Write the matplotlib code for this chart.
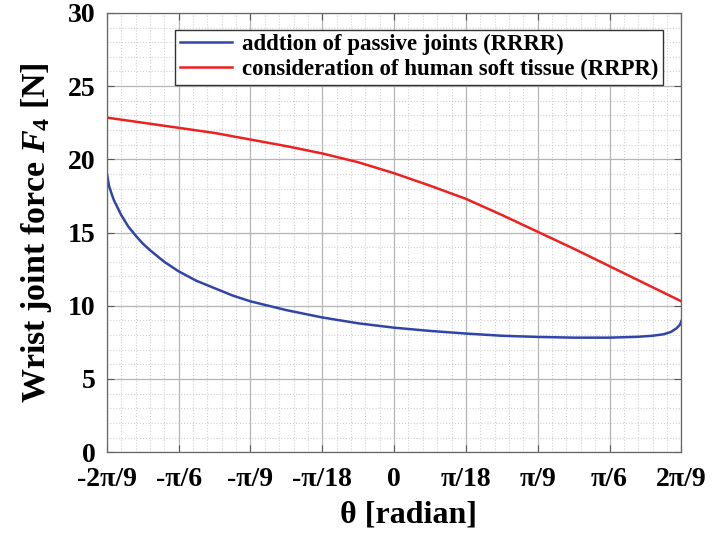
import numpy as np
import matplotlib.pyplot as plt
from matplotlib.ticker import MultipleLocator

# angles, in degrees (converted to radians below)
deg_red = [-40, -35, -30, -25, -20, -15, -10, -5, 0, 5, 10, 15, 20, 25, 30, 35, 40]
force_red = [22.85, 22.5, 22.15, 21.8, 21.35, 20.9, 20.4, 19.8, 19.05, 18.2, 17.3, 16.2, 15.05, 13.9, 12.7, 11.5, 10.3]

deg_blue = [-40, -39.7, -39.3, -39, -38.5, -38, -37, -36, -35, -34, -32, -30, -27.5, -25, -22.5, -20,
            -15, -10, -5, 0, 5, 10, 15, 20, 25, 30, 34, 36, 37.5, 38.5, 39.3, 39.8, 40]
force_blue = [19.1, 18.2, 17.6, 17.2, 16.7, 16.2, 15.4, 14.8, 14.25, 13.8, 13.0, 12.35, 11.7, 11.2, 10.7, 10.3,
              9.7, 9.2, 8.8, 8.5, 8.28, 8.1, 7.95, 7.87, 7.82, 7.82, 7.88, 7.95, 8.05, 8.2, 8.45, 8.7, 8.95]

tick_labels = ['-2\u03c0/9', '-\u03c0/6', '-\u03c0/9', '-\u03c0/18', '0',
               '\u03c0/18', '\u03c0/9', '\u03c0/6', '2\u03c0/9']

plt.rcParams['font.family'] = ['Liberation Serif', 'DejaVu Serif']
plt.rcParams['font.weight'] = 'bold'
plt.rcParams['axes.labelweight'] = 'bold'
plt.rcParams['mathtext.fontset'] = 'custom'
plt.rcParams['mathtext.it'] = 'Liberation Serif:italic:bold'
plt.rcParams['mathtext.rm'] = 'Liberation Serif:bold'
plt.rcParams['mathtext.bf'] = 'Liberation Serif:bold'

fig = plt.figure(figsize=(7.12, 5.37), dpi=100)
ax = fig.add_axes([0.150, 0.158, 0.807, 0.818])

ax.plot(np.deg2rad(deg_blue), force_blue, color='#2f45aa', lw=1.8,
        label='addtion of passive joints (RRRR)')
ax.plot(np.deg2rad(deg_red), force_red, color='#ee2020', lw=1.8,
        label='consideration of human soft tissue (RRPR)')

ax.set_xlim(-2 * np.pi / 9, 2 * np.pi / 9)
ax.set_ylim(0, 30)
ax.set_xticks(np.arange(-4, 5) * np.pi / 18)
ax.set_xticklabels(tick_labels)
ax.xaxis.set_minor_locator(MultipleLocator(np.pi / 90))
ax.yaxis.set_major_locator(MultipleLocator(5))
ax.yaxis.set_minor_locator(MultipleLocator(1))

ax.grid(which='major', color='#b4b4b4', lw=0.9, ls='-')
ax.grid(which='minor', color='#d0d0d0', lw=0.8, ls=':')
ax.set_axisbelow(True)
ax.tick_params(which='both', direction='in', top=True, right=True, color='#555555')
ax.tick_params(which='major', length=5, labelsize=20)
ax.tick_params(axis='y', pad=8)
ax.tick_params(axis='x', pad=11)
ax.tick_params(which='minor', length=0)
for s in ax.spines.values():
    s.set_color('#666666')
    s.set_linewidth(0.9)

ax.set_xlabel('\u03b8 [radian]', fontsize=23)
ax.xaxis.set_label_coords(0.525, -0.11)
ax.set_ylabel('Wrist joint force $F_4$ [N]', fontsize=24.5, labelpad=10)

ax.legend(loc='upper center', bbox_to_anchor=(0.543, 0.962), fontsize=16.5,
          frameon=True, fancybox=False, edgecolor='#333333', framealpha=1,
          handlelength=2.3, borderpad=0.2, labelspacing=0.15, handletextpad=0.4,
          borderaxespad=0)

fig.savefig('out.png', dpi=100)
